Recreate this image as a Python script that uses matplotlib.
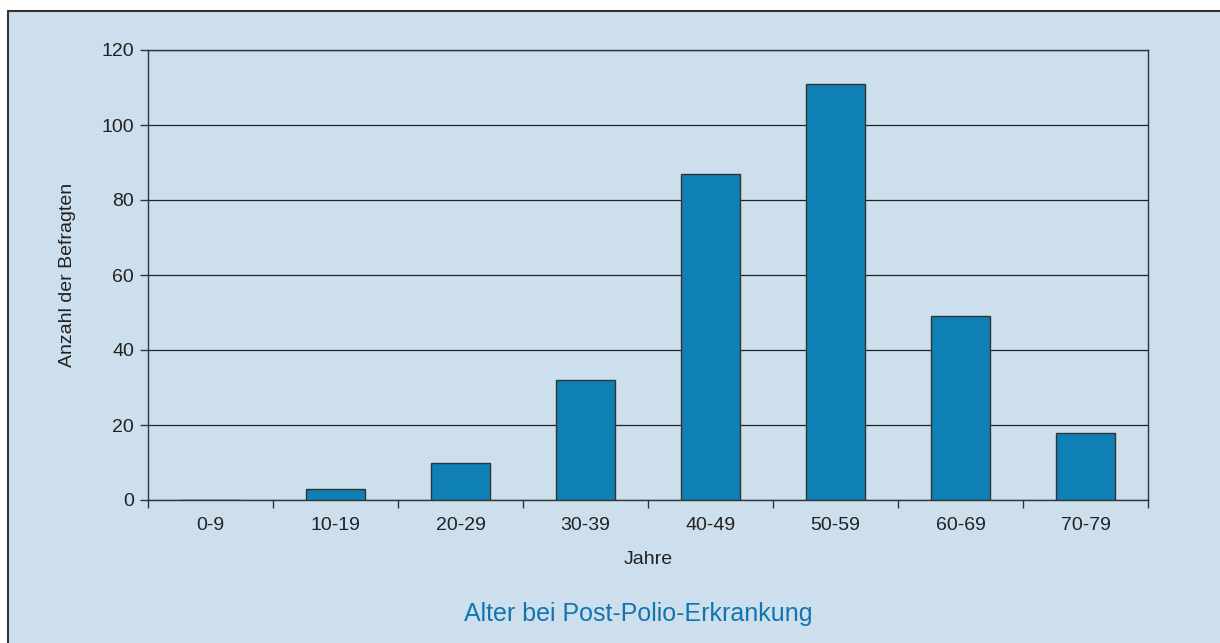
import matplotlib
matplotlib.use("Agg")
import matplotlib.pyplot as plt
from matplotlib import font_manager
from matplotlib.patches import Rectangle
import numpy as np

# data
altersgruppen = ['0-9', '10-19', '20-29', '30-39', '40-49', '50-59', '60-69', '70-79']
anzahl = [0, 3, 10, 32, 87, 111, 49, 18]
y_ticks = [0, 20, 40, 60, 80, 100, 120]

bg_color = '#cddfec'
bar_color = '#0e80b5'
title_color = '#1275b0'

names = {f.name for f in font_manager.fontManager.ttflist}
if 'Liberation Sans Narrow' in names:
	plt.rcParams['font.family'] = ['Liberation Sans Narrow', 'DejaVu Sans']
else:
	plt.rcParams['font.family'] = ['Liberation Sans', 'DejaVu Sans']

fig = plt.figure(figsize=(12.2, 6.43), dpi=100)
fig.patch.set_facecolor('white')

# outer panel with border on top and left
W, H = 1220, 643
fig.patches.append(Rectangle((8 / W, -0.1), 1.2, 1 - 11 / H + 0.1, transform=fig.transFigure,
	facecolor=bg_color, edgecolor='#333333', linewidth=1.5, zorder=-5))

ax = fig.add_axes([148 / W, 1 - 500 / H, 1000 / W, 450 / H])
ax.set_zorder(2)
ax.set_facecolor(bg_color)

x = np.arange(len(altersgruppen))
ax.bar(x, anzahl, width=0.47, color=bar_color, edgecolor='#333333', linewidth=1.0, zorder=3)

ax.set_xlim(-0.5, len(altersgruppen) - 0.5)
ax.set_ylim(0, 120)
ax.set_yticks(y_ticks)
ax.set_xticks(x)
ax.set_xticklabels(altersgruppen)
ax.set_xticks(np.arange(len(altersgruppen) + 1) - 0.5, minor=True)
ax.tick_params(axis='x', which='major', length=0, pad=12, labelsize=14, colors='#222222')
ax.tick_params(axis='x', which='minor', length=6, width=1, color='#333333', direction='out')
ax.tick_params(axis='y', length=6, width=1, color='#333333', labelsize=14, labelcolor='#222222', pad=4)

ax.yaxis.grid(True, color='#222222', linewidth=0.9, zorder=1)
ax.set_axisbelow(True)
for s in ax.spines.values():
	s.set_color('#333333')
	s.set_linewidth(1.0)

ax.set_xlabel('Jahre', fontsize=14, color='#222222')
ax.set_ylabel('Anzahl der Befragten', fontsize=14, color='#222222')
ax.xaxis.set_label_coords(0.5, -0.133)
ax.yaxis.set_label_coords(-0.08, 0.5)
ax.xaxis.label.set_va('center')
ax.yaxis.label.set_va('center')

fig.text(638 / W, 1 - 614 / H, 'Alter bei Post-Polio-Erkrankung', ha='center', va='center',
	fontsize=18, color=title_color)

fig.savefig('out.png', dpi=100, facecolor=fig.get_facecolor())
